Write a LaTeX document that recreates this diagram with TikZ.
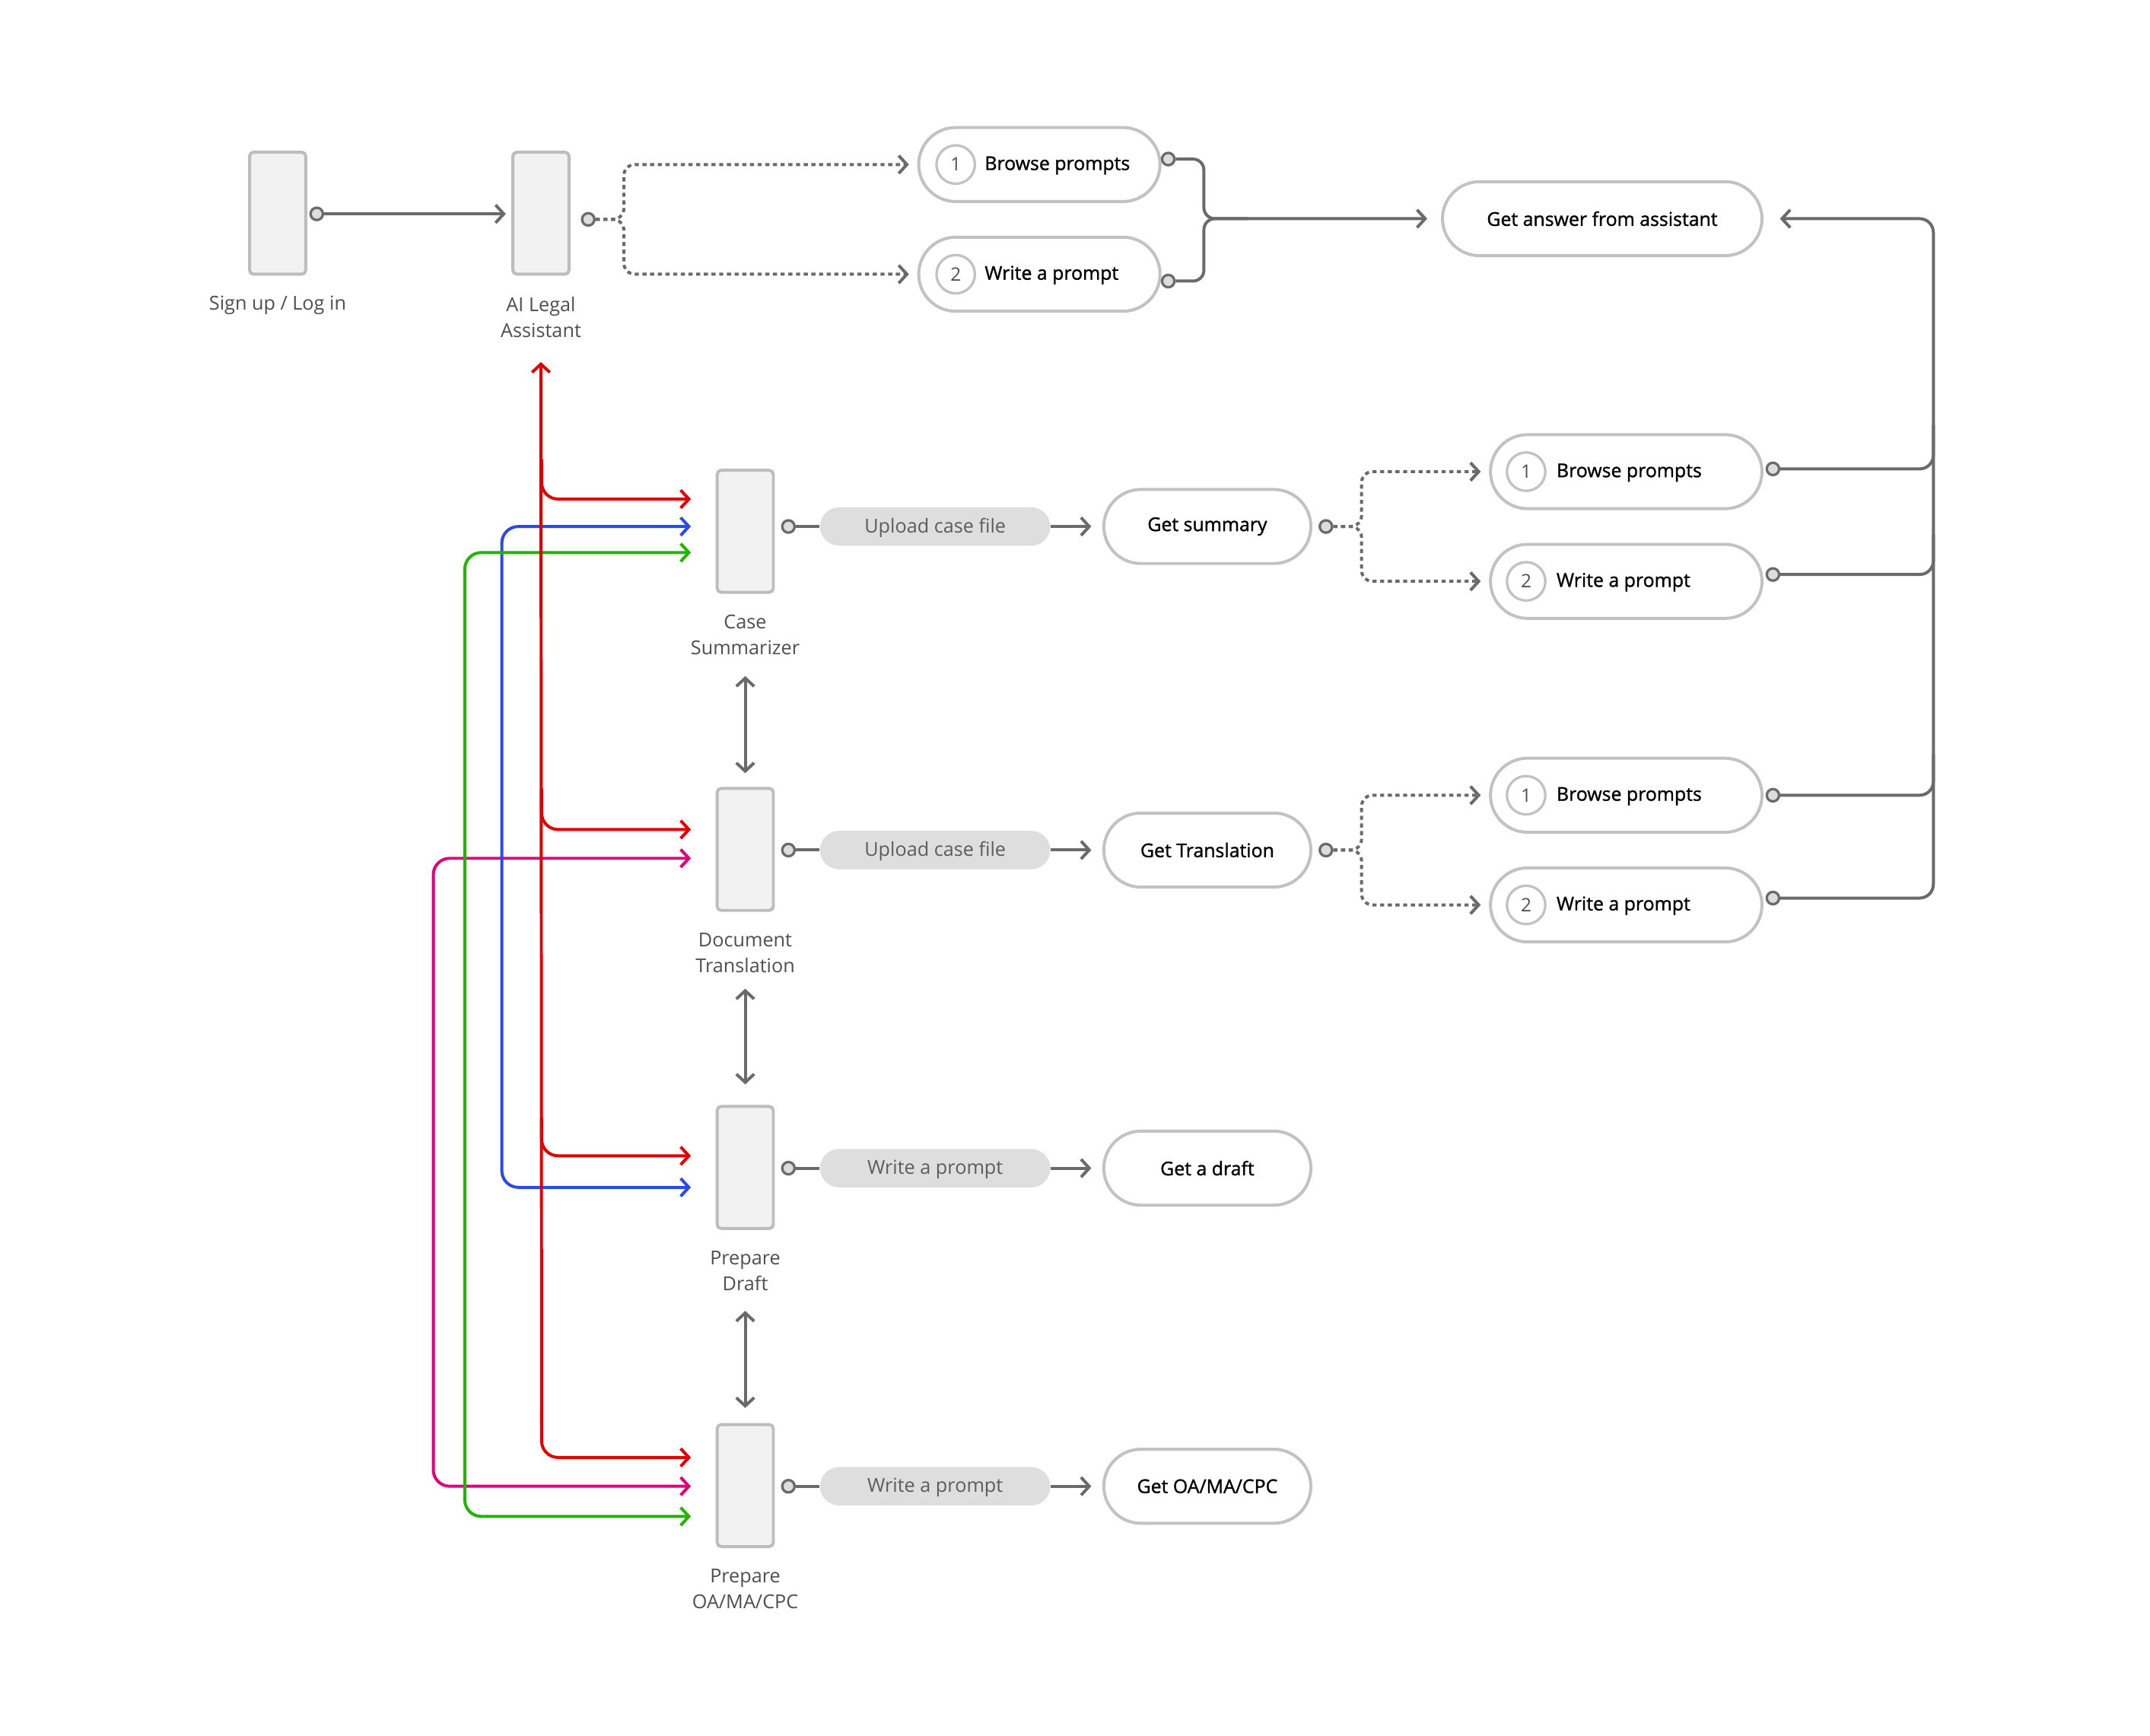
\documentclass[tikz,border=0pt]{standalone}
\usepackage{fontspec}
\setmainfont{Open Sans}
\newfontfamily\medfont[FakeBold=1.2]{Open Sans}
\usetikzlibrary{arrows.meta,shapes.misc,calc}
\definecolor{boxfill}{HTML}{F2F2F2}
\definecolor{boxdraw}{HTML}{BDBDBD}
\definecolor{pilldraw}{HTML}{C2C2C2}
\definecolor{conncol}{HTML}{6A6A6A}
\definecolor{dotfill}{HTML}{DDDDDD}
\definecolor{labeltext}{HTML}{4F4F4F}
\definecolor{gpillfill}{HTML}{DEDEDE}
\definecolor{gpilltext}{HTML}{5C5C5C}
\definecolor{cred}{HTML}{E00000}
\definecolor{cblue}{HTML}{2A4BE8}
\definecolor{cgreen}{HTML}{22B400}
\definecolor{cmag}{HTML}{E0007A}
\begin{document}
\begin{tikzpicture}[x=1pt,y=-1pt,
  >={Straight Barb[length=6pt,width=13pt]},
  screen/.style={draw=boxdraw, fill=boxfill, line width=2.2pt, rounded corners=3pt, minimum width=41pt, minimum height=89pt, inner sep=0pt},
  pill/.style={draw=pilldraw, line width=2.2pt, rounded rectangle, minimum height=54pt, inner sep=0pt, font=\medfont\fontsize{13.8}{16}\selectfont, text=black},
  gpill/.style={fill=gpillfill, rounded rectangle, minimum height=28pt, minimum width=168pt, inner sep=0pt, text=gpilltext, font=\fontsize{14}{16}\selectfont, text height=10pt, text depth=1pt},
  dot/.style={circle, draw=conncol, fill=dotfill, line width=1.8pt, minimum size=9pt, inner sep=0pt},
  numc/.style={circle, draw=pilldraw, line width=1.8pt, minimum size=28pt, inner sep=0pt, text=labeltext, font=\fontsize{13.5}{16}\selectfont},
  ptext/.style={anchor=west, inner sep=0pt, text height=10pt, text depth=2pt, font=\medfont\fontsize{13.8}{16}\selectfont, text=black},
  lbl/.style={align=center, text=labeltext, font=\fontsize{14}{19}\selectfont, inner sep=0pt},
  conn/.style={draw=conncol, line width=2.2pt},
  dots/.style={draw=conncol, line width=2.2pt, dash pattern=on 3pt off 2.6pt},
  cline/.style={line width=2.2pt, rounded corners=12pt}
]
\useasboundingbox (0,0) rectangle (1568,1266);
\fill[white] (0,0) rectangle (1568,1266);

% ---------- top row ----------
\node[screen] (su) at (202.5,155.5) {};
\node[lbl] (lsu) at (202.5,222.5) {Sign up / Log in};
\node[screen] (ai) at (394.5,155.5) {};
\node[lbl] (lai) at (394.5,231.5) {AI Legal\\Assistant};
\node[dot] (dsu) at (231,156) {};
\draw[conn,->,shorten >=4pt] (dsu) -- (dsu -| ai.west);

\node[dot] (dai) at (429,160) {};
\node[pill, minimum width=176pt] (bp1) at (758,120) {};
\node[numc] (n1a) at (697,120) {1};
\node[ptext] (t1a) at (718,120) {Browse prompts};
\node[pill, minimum width=176pt] (wp1) at (758,200) {};
\node[numc] (n1b) at (697,200) {2};
\node[ptext] (t1b) at (718,200) {Write a prompt};
\draw[dots,->,rounded corners=8pt,shorten >=6pt] (dai) -- (455,160) -- (455,120) -- (bp1.west);
\draw[dots,->,rounded corners=8pt,shorten >=6pt] (dai) -- (455,160) -- (455,200) -- (wp1.west);

\node[pill, minimum width=233pt] (ga) at (1168.5,159.5) {Get answer from assistant};
\node[dot] (dbp1) at (852,116) {};
\node[dot] (dwp1) at (852,205) {};
\draw[conn,->,rounded corners=8pt,shorten >=10pt] (dbp1) -- (878,116) -- (878,159.5) -- (ga.west);
\draw[conn,rounded corners=8pt] (dwp1) -- (878,205) -- (878,159.5) -- (910,159.5);

% ---------- row 1: case summarizer ----------
\node[screen] (cs) at (543.5,387.5) {};
\node[lbl] (lcs) at (543.5,463) {Case\\Summarizer};
\node[dot] (dcs) at (575,384) {};
\node[gpill] (gp1) at (682,384) {Upload case file};
\node[pill, minimum width=151pt] (gs) at (880.5,384) {Get summary};
\draw[conn] (dcs) -- (gp1.west);
\draw[conn,->,shorten >=8pt] (gp1.east) -- (gs.west);
\node[dot] (dgs) at (967,384) {};
\node[pill, minimum width=198pt] (bp2) at (1186,344) {};
\node[numc] (n2a) at (1113,344) {1};
\node[ptext] (t2a) at (1135,344) {Browse prompts};
\node[pill, minimum width=198pt] (wp2) at (1186,424) {};
\node[numc] (n2b) at (1113,424) {2};
\node[ptext] (t2b) at (1135,424) {Write a prompt};
\draw[dots,->,rounded corners=8pt,shorten >=6pt] (dgs) -- (993,384) -- (993,344) -- (bp2.west);
\draw[dots,->,rounded corners=8pt,shorten >=6pt] (dgs) -- (993,384) -- (993,424) -- (wp2.west);
\node[dot] (dbp2) at (1293,342) {};
\node[dot] (dwp2) at (1293,419) {};

% ---------- row 2: document translation ----------
\node[screen] (dt) at (543.5,619.5) {};
\node[lbl] (ldt) at (543.5,695) {Document\\Translation};
\node[dot] (ddt) at (575,620) {};
\node[gpill] (gp2) at (682,620) {Upload case file};
\node[pill, minimum width=151pt] (gt) at (880.5,620) {Get Translation};
\draw[conn] (ddt) -- (gp2.west);
\draw[conn,->,shorten >=8pt] (gp2.east) -- (gt.west);
\node[dot] (dgt) at (967,620) {};
\node[pill, minimum width=198pt] (bp3) at (1186,580) {};
\node[numc] (n3a) at (1113,580) {1};
\node[ptext] (t3a) at (1135,580) {Browse prompts};
\node[pill, minimum width=198pt] (wp3) at (1186,660) {};
\node[numc] (n3b) at (1113,660) {2};
\node[ptext] (t3b) at (1135,660) {Write a prompt};
\draw[dots,->,rounded corners=8pt,shorten >=6pt] (dgt) -- (993,620) -- (993,580) -- (bp3.west);
\draw[dots,->,rounded corners=8pt,shorten >=6pt] (dgt) -- (993,620) -- (993,660) -- (wp3.west);
\node[dot] (dbp3) at (1293,580) {};
\node[dot] (dwp3) at (1293,655) {};

% collector to "Get answer"
\draw[conn,->,rounded corners=10pt,shorten >=12pt] (dwp3) -- (1410,655) -- (1410,159.5) -- (ga.east);
\draw[conn,rounded corners=10pt] (dbp2) -- (1410,342) -- (1410,310);
\draw[conn,rounded corners=10pt] (dwp2) -- (1410,419) -- (1410,390);
\draw[conn,rounded corners=10pt] (dbp3) -- (1410,580) -- (1410,550);

% ---------- row 3: prepare draft ----------
\node[screen] (pd) at (543.5,851.5) {};
\node[lbl] (lpd) at (543.5,927) {Prepare\\Draft};
\node[dot] (dpd) at (575,852) {};
\node[gpill] (gp3) at (682,852) {Write a prompt};
\node[pill, minimum width=151pt] (gd) at (880.5,852) {Get a draft};
\draw[conn] (dpd) -- (gp3.west);
\draw[conn,->,shorten >=8pt] (gp3.east) -- (gd.west);

% ---------- row 4: prepare OA ----------
\node[screen] (po) at (543.5,1083.5) {};
\node[lbl] (lpo) at (543.5,1159) {Prepare\\OA/MA/CPC};
\node[dot] (dpo) at (575,1084) {};
\node[gpill] (gp4) at (682,1084) {Write a prompt};
\node[pill, minimum width=151pt] (go) at (880.5,1084) {Get OA/MA/CPC};
\draw[conn] (dpo) -- (gp4.west);
\draw[conn,->,shorten >=8pt] (gp4.east) -- (go.west);

% vertical double arrows
\draw[conn,<->] ($(cs.south)+(0,60)$) -- ($(dt.north)+(0,-10)$);
\draw[conn,<->] ($(dt.south)+(0,56)$) -- ($(pd.north)+(0,-15)$);
\draw[conn,<->] ($(pd.south)+(0,59)$) -- ($(po.north)+(0,-11)$);

% ---------- coloured connectors ----------
\draw[cline,cmag,<->] ($(dt.west)+(-18,6.5)$) -- (316,626) -- (316,1084) -- ($(po.west)+(-18,0.5)$);
\draw[cline,cblue,<->] ($(cs.west)+(-18,-3.5)$) -- (366,384) -- (366,866) -- ($(pd.west)+(-18,14.5)$);
\draw[cline,cgreen,<->] ($(cs.west)+(-18,15.5)$) -- (339,403) -- (339,1106) -- ($(po.west)+(-18,22.5)$);
\draw[line width=2.2pt,cred,->] (395,1040) -- ($(ai.south)+(0,63)$);
\draw[cline,cred,->] (395,335) -- (395,364) -- ($(cs.west)+(-18,-23.5)$);
\draw[cline,cred,->] (395,575) -- (395,605) -- ($(dt.west)+(-18,-14.5)$);
\draw[cline,cred,->] (395,815) -- (395,843) -- ($(pd.west)+(-18,-8.5)$);
\draw[cline,cred,->] (395,1030) -- (395,1063) -- ($(po.west)+(-18,-20.5)$);
\end{tikzpicture}
\end{document}
